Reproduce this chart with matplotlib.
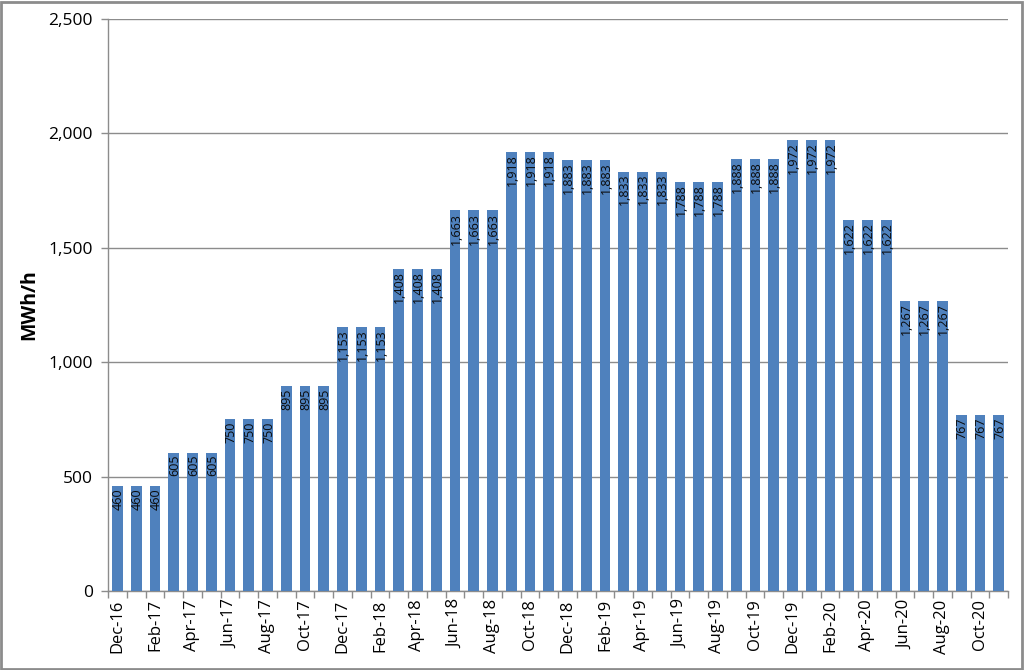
import matplotlib
matplotlib.use("Agg")
import matplotlib.pyplot as plt
from matplotlib.patches import Rectangle
import numpy as np

months = ["Dec-16", "Jan-17", "Feb-17", "Mar-17", "Apr-17", "May-17", "Jun-17", "Jul-17",
          "Aug-17", "Sep-17", "Oct-17", "Nov-17", "Dec-17", "Jan-18", "Feb-18", "Mar-18",
          "Apr-18", "May-18", "Jun-18", "Jul-18", "Aug-18", "Sep-18", "Oct-18", "Nov-18",
          "Dec-18", "Jan-19", "Feb-19", "Mar-19", "Apr-19", "May-19", "Jun-19", "Jul-19",
          "Aug-19", "Sep-19", "Oct-19", "Nov-19", "Dec-19", "Jan-20", "Feb-20", "Mar-20",
          "Apr-20", "May-20", "Jun-20", "Jul-20", "Aug-20", "Sep-20", "Oct-20", "Nov-20"]
values = [460, 460, 460, 605, 605, 605, 750, 750, 750, 895, 895, 895,
          1153, 1153, 1153, 1408, 1408, 1408, 1663, 1663, 1663, 1918, 1918, 1918,
          1883, 1883, 1883, 1833, 1833, 1833, 1788, 1788, 1788, 1888, 1888, 1888,
          1972, 1972, 1972, 1622, 1622, 1622, 1267, 1267, 1267, 767, 767, 767]
y_ticks = [0, 500, 1000, 1500, 2000, 2500]
y_label = "MWh/h"

plt.rcParams['font.family'] = ['Open Sans', 'DejaVu Sans']

fig = plt.figure(figsize=(10.24, 6.7), dpi=100)
ax = fig.add_axes([0.1055, 0.118, 0.879, 0.8537])

x = np.arange(len(values))
bar_color = "#4f81bd"
ax.bar(x, values, width=0.57, color=bar_color, zorder=3)

for xi, v in zip(x, values):
    ax.text(xi + 0.06, v - 10, f"{v:,}", rotation=90, ha="center", va="top",
            fontsize=9, color="#0a0a0a", zorder=4)

ax.set_xlim(-0.5, len(values) - 0.5)
ax.set_ylim(0, 2500)
ax.set_yticks(y_ticks)
ax.set_yticklabels([f"{t:,}" for t in y_ticks], fontsize=12.5)
ax.yaxis.grid(True, color="#8c8c8c", linewidth=1.0, zorder=0)
ax.set_axisbelow(True)

ax.set_xticks(x[::2])
ax.set_xticklabels(months[::2], rotation=90, fontsize=12)
ax.tick_params(axis="x", length=0, pad=6)
ax.set_xticks(np.arange(-0.5, len(values), 1), minor=True)
ax.tick_params(axis="x", which="minor", length=5, color="#8c8c8c", width=1)
ax.tick_params(axis="y", length=5, color="#8c8c8c", width=1, pad=6)

for s in ["top", "right"]:
    ax.spines[s].set_visible(False)
for s in ["left", "bottom"]:
    ax.spines[s].set_color("#8c8c8c")
    ax.spines[s].set_linewidth(1.0)

ax.set_ylabel(y_label, fontsize=14, fontweight="bold")
ax.yaxis.set_label_coords(-0.076, 0.5)

fig.patches.append(Rectangle((0.001, 0.002), 0.997, 0.995, transform=fig.transFigure,
                             fill=False, edgecolor="#8c8c8c", linewidth=2))

fig.savefig("out.png", dpi=100)
